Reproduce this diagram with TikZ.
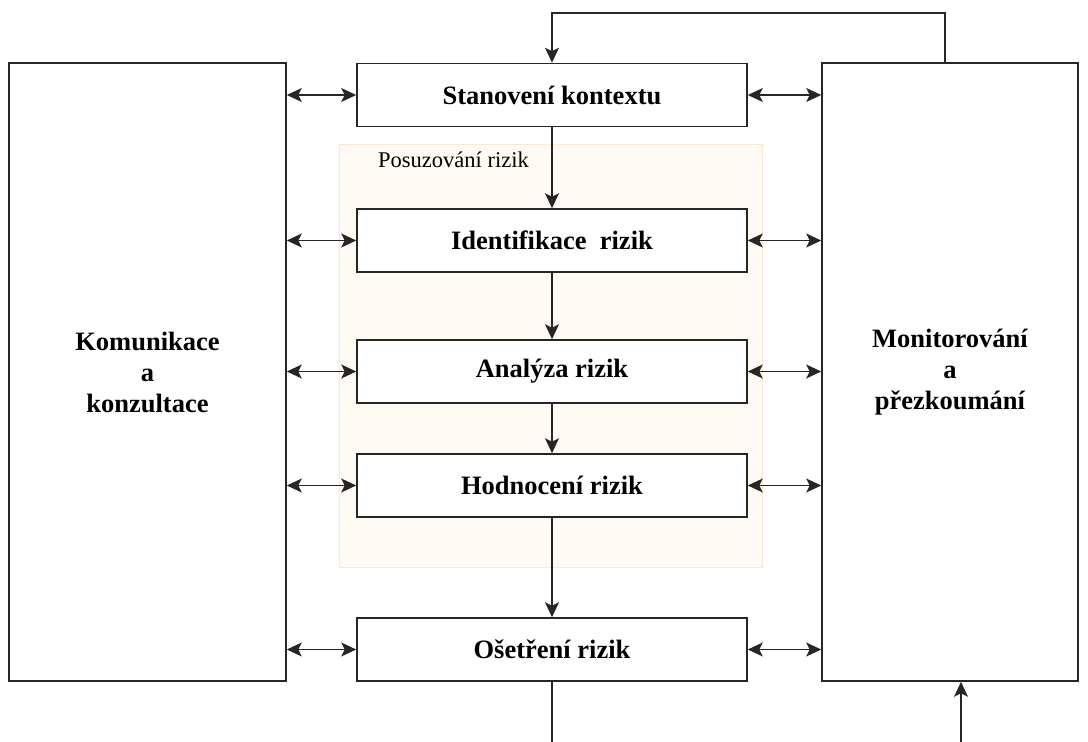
\documentclass[tikz,border=0pt]{standalone}
\usepackage{fontspec}
\setmainfont{Liberation Serif}
\usetikzlibrary{arrows.meta}
\definecolor{assessfill}{RGB}{254,249,243}
\definecolor{assessline}{RGB}{250,233,208}

\begin{document}
\begin{tikzpicture}[x=1pt,y=-1pt,
    box/.style={draw=black!85,line width=1.6pt,fill=white,inner sep=0pt,align=center,
      font=\fontsize{26.5}{31}\selectfont\bfseries},
    step box/.style={box,minimum width=390pt,minimum height=63pt},
    side box/.style={box,minimum height=618pt},
    link/.style={draw=black!85,line width=1.6pt,-{Stealth[length=15pt,width=14pt,inset=3.5pt]}},
    both/.style={link,{Stealth[length=15pt,width=14pt,inset=3.5pt]}-{Stealth[length=15pt,width=14pt,inset=3.5pt]}},
    plain/.style={draw=black!85,line width=1.6pt}]

	\useasboundingbox (0,0) rectangle (1088,742);

	% risk assessment frame
	\node[draw=assessline,fill=assessfill,line width=1pt,minimum width=423pt,minimum height=423pt,inner sep=0pt] (posuzovani) at (550.5,355.5) {};
	\node[anchor=base west,inner sep=0pt,font=\fontsize{22.5}{26}\selectfont] (posuzlabel) at (378,167) {Posuzování rizik};

	% side boxes
	\node[side box,minimum width=277pt] (komunikace) at (147.5,372) {Komunikace\\a\\konzultace};
	\node[side box,minimum width=256pt] (monitorovani) at (950,372) {Monitorování\\a\\přezkoumání};

	% process steps
	\node[step box] (stanoveni) at (552,95) {Stanovení kontextu};
	\node[step box] (identifikace) at (552,240.5) {Identifikace\ \ rizik};
	\node[step box] (analyza) at (552,371.5) {Analýza rizik};
	\node[step box] (hodnoceni) at (552,485.5) {Hodnocení rizik};
	\node[step box] (osetreni) at (552,649.5) {Ošetření rizik};

	\draw[link] (stanoveni) -- (identifikace);
	\draw[link] (identifikace) -- (analyza);
	\draw[link] (analyza) -- (hodnoceni);
	\draw[link] (hodnoceni) -- (osetreni);

	\foreach \n in {stanoveni,identifikace,analyza,hodnoceni,osetreni} {
		\draw[both] (komunikace.east |- \n.west) -- (\n.west);
		\draw[both] (\n.east) -- (monitorovani.west |- \n.east);
	}

	% feedback loops
	\coordinate (topR) at (945,13);
	\coordinate (botL) at (552,742);
	\coordinate (botR) at (961,742);
	\draw[link] (monitorovani.north -| topR) -- (topR) -| (stanoveni.north);
	\draw[plain] (osetreni.south) -- (botL);
	\draw[link] (botR) -- (monitorovani.south -| botR);

\end{tikzpicture}
\end{document}
